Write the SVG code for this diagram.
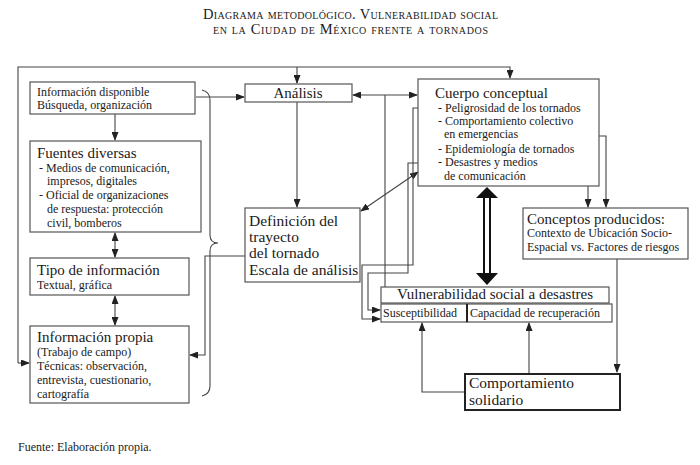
<svg xmlns="http://www.w3.org/2000/svg" width="700" height="465" viewBox="0 0 700 465">
<style>
  text { font-family: "Liberation Serif", "Times New Roman", serif; fill: #1a1a1a; }
  .box { fill: #fff; stroke: #555; stroke-width: 1.2; }
  .thick { fill: #fff; stroke: #222; stroke-width: 2; }
  .ln { fill: none; stroke: #444; stroke-width: 1.1; }
  .t15 { font-size: 15px; }
  .t16 { font-size: 15.5px; }
  .t12 { font-size: 12px; }
  .title { font-size: 14.5px; font-variant: small-caps; }
</style>
<defs>
  <marker id="ah" markerUnits="userSpaceOnUse" markerWidth="9" markerHeight="7" refX="8" refY="3.5" orient="auto-start-reverse">
    <path d="M0,0 L9,3.5 L0,7 z" fill="#222"/>
  </marker>
</defs>
<rect width="700" height="465" fill="#fff"/>

<g id="title">
  <text class="title" x="203" y="19" textLength="295" lengthAdjust="spacing">Diagrama metodológico. Vulnerabilidad social</text>
  <text class="title" x="213" y="34" textLength="275" lengthAdjust="spacing">en la Ciudad de México frente a tornados</text>
</g>

<g id="connectors">
  <!-- top frame -->
  <polyline class="ln" points="18,363 18,67 510,67 510,78" marker-end="url(#ah)"/>
  <line class="ln" x1="18" y1="363" x2="29" y2="363" marker-end="url(#ah)"/>
  <line class="ln" x1="297" y1="67" x2="297" y2="83" marker-end="url(#ah)"/>
  <!-- left column -->
  <line class="ln" x1="115" y1="114" x2="115" y2="140" marker-end="url(#ah)"/>
  <line class="ln" x1="115" y1="233" x2="115" y2="257" marker-start="url(#ah)" marker-end="url(#ah)"/>
  <line class="ln" x1="115" y1="296" x2="115" y2="325" marker-start="url(#ah)" marker-end="url(#ah)"/>
  <!-- brace -->
  <path class="ln" d="M202,90 Q210,92 210,100 L210,235 Q210,243 218,243 Q210,243 210,251 L210,386 Q210,394 202,396"/>
  <!-- info disponible -> analisis -->
  <line class="ln" x1="196" y1="97" x2="244" y2="97" marker-end="url(#ah)"/>
  <!-- analisis -> definicion -->
  <line class="ln" x1="297" y1="102" x2="297" y2="207" marker-end="url(#ah)"/>
  <!-- definicion -> info propia -->
  <polyline class="ln" points="245,256 205,256 205,355 190,355" marker-end="url(#ah)"/>
  <!-- analisis <-> cuerpo -->
  <line class="ln" x1="353" y1="95" x2="417" y2="95" marker-start="url(#ah)" marker-end="url(#ah)"/>
  <line class="ln" x1="385" y1="95" x2="385" y2="287"/>
  <!-- cuerpo <-> definicion -->
  <line class="ln" x1="418" y1="172" x2="361" y2="211" marker-start="url(#ah)" marker-end="url(#ah)"/>
  <!-- peligrosidad -> susceptibilidad -->
  <polyline class="ln" points="434,108 413,108 413,265 362,265 362,319 380,319" marker-end="url(#ah)"/>
  <!-- desastres -> susceptibilidad -->
  <polyline class="ln" points="434,163 408,163 408,273 368,273 368,310 380,310" marker-end="url(#ah)"/>
  <!-- emergencias -> conceptos -->
  <polyline class="ln" points="526,136 606,136 606,207" marker-end="url(#ah)"/>
  <!-- epidemiologia -> conceptos -->
  <polyline class="ln" points="580,150 588,150 588,207" marker-end="url(#ah)"/>
  <!-- conceptos -> comportamiento -->
  <line class="ln" x1="617" y1="259" x2="617" y2="372" marker-end="url(#ah)"/>
  <!-- comportamiento -> susceptibilidad / capacidad -->
  <polyline class="ln" points="465,392 422,392 422,323" marker-end="url(#ah)"/>
  <line class="ln" x1="529" y1="374" x2="529" y2="323" marker-end="url(#ah)"/>
  <!-- thick double arrow -->
  <line x1="484" y1="197" x2="484" y2="274" stroke="#111" stroke-width="2"/>
  <line x1="490" y1="197" x2="490" y2="274" stroke="#111" stroke-width="2"/>
  <path d="M487,187 L498,198 L476,198 z" fill="#111"/>
  <path d="M487,285 L498,273 L476,273 z" fill="#111"/>
</g>

<g id="info-disponible">
  <rect class="box" x="30" y="82" width="165" height="32"/>
  <text class="t12" x="37" y="96">Información disponible</text>
  <text class="t12" x="37" y="109">Búsqueda, organización</text>
</g>

<g id="fuentes-diversas">
  <rect class="box" x="30" y="141" width="171" height="91"/>
  <text class="t15" x="37" y="158">Fuentes diversas</text>
  <text class="t12" x="39" y="172">- Medios de comunicación,</text>
  <text class="t12" x="47" y="185">impresos, digitales</text>
  <text class="t12" x="39" y="199">- Oficial de organizaciones</text>
  <text class="t12" x="47" y="213">de respuesta: protección</text>
  <text class="t12" x="47" y="227">civil, bomberos</text>
</g>

<g id="tipo-informacion">
  <rect class="box" x="30" y="258" width="159" height="37"/>
  <text class="t15" x="37" y="275">Tipo de información</text>
  <text class="t12" x="37" y="289">Textual, gráfica</text>
</g>

<g id="info-propia">
  <rect class="box" x="30" y="326" width="159" height="77"/>
  <text class="t15" x="37" y="342">Información propia</text>
  <text class="t12" x="37" y="356">(Trabajo de campo)</text>
  <text class="t12" x="37" y="370">Técnicas: observación,</text>
  <text class="t12" x="37" y="384">entrevista, cuestionario,</text>
  <text class="t12" x="37" y="398">cartografía</text>
</g>

<g id="analisis">
  <rect class="box" x="245" y="84" width="107" height="18"/>
  <text class="t15" x="298" y="98" text-anchor="middle">Análisis</text>
</g>

<g id="definicion">
  <rect class="box" x="245" y="208" width="115" height="74"/>
  <text class="t16" x="249" y="226">Definición del</text>
  <text class="t16" x="249" y="242">trayecto</text>
  <text class="t16" x="249" y="258">del tornado</text>
  <text class="t16" x="249" y="275">Escala de análisis</text>
</g>

<g id="cuerpo-conceptual">
  <rect class="box" x="418" y="79" width="181" height="107"/>
  <text class="t15" x="435" y="98">Cuerpo conceptual</text>
  <text class="t12" x="438" y="112">- Peligrosidad de los tornados</text>
  <text class="t12" x="438" y="125">- Comportamiento colectivo</text>
  <text class="t12" x="444" y="138">en emergencias</text>
  <text class="t12" x="438" y="153">- Epidemiología de tornados</text>
  <text class="t12" x="438" y="166">- Desastres y medios</text>
  <text class="t12" x="444" y="180">de comunicación</text>
</g>

<g id="conceptos-producidos">
  <rect class="box" x="523" y="208" width="165" height="51"/>
  <text class="t15" x="527" y="224">Conceptos producidos:</text>
  <text class="t12" x="527" y="237">Contexto de Ubicación Socio-</text>
  <text class="t12" x="527" y="251">Espacial vs. Factores de riesgos</text>
</g>

<g id="vulnerabilidad">
  <rect class="box" x="381" y="287" width="228" height="16"/>
  <text class="t15" x="495" y="299" text-anchor="middle">Vulnerabilidad social a desastres</text>
  <rect class="box" x="381" y="304" width="86" height="18"/>
  <rect class="box" x="467" y="304" width="145" height="18"/>
  <line x1="467" y1="304" x2="467" y2="322" stroke="#222" stroke-width="2"/>
  <text class="t12" x="383" y="317">Susceptibilidad</text>
  <text class="t12" x="470" y="317">Capacidad de recuperación</text>
</g>

<g id="comportamiento">
  <rect class="thick" x="465" y="374" width="155" height="36"/>
  <text class="t16" x="469" y="388">Comportamiento</text>
  <text class="t16" x="469" y="405">solidario</text>
</g>

<g id="fuente">
  <text class="t12" x="18" y="451">Fuente: Elaboración propia.</text>
</g>
</svg>
